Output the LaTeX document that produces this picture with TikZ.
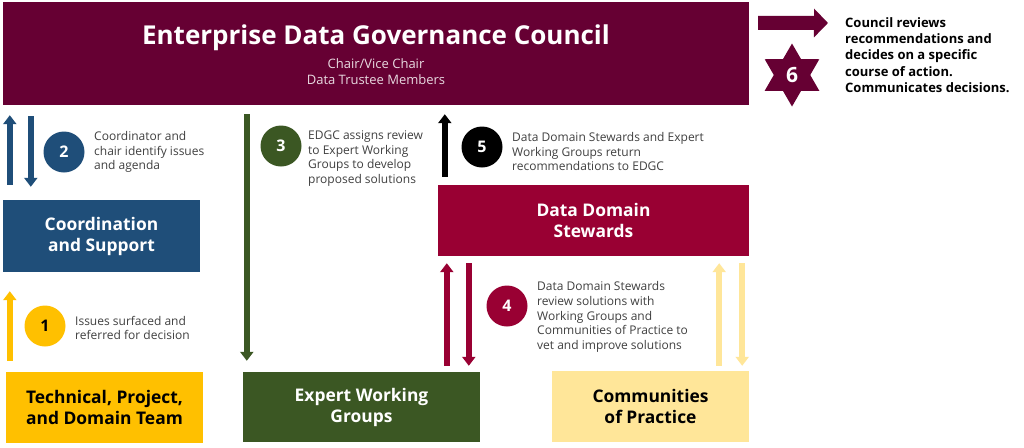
\documentclass[tikz,border=0pt]{standalone}
\usepackage{fontspec}
\setmainfont{Open Sans}
\usetikzlibrary{arrows.meta,shapes.geometric}
\definecolor{councilred}{RGB}{102,0,51}
\definecolor{coordblue}{RGB}{31,78,121}
\definecolor{teamyellow}{RGB}{255,192,0}
\definecolor{expertgreen}{RGB}{59,87,35}
\definecolor{stewardred}{RGB}{153,0,51}
\definecolor{practiceyellow}{RGB}{255,230,153}
\definecolor{notegray}{RGB}{64,64,64}
\tikzset{
  box/.style={inner sep=0, align=center, font=\bfseries\fontsize{17.4}{21}\selectfont},
  badge/.style={circle, minimum size=41pt, inner sep=0, text=white, font=\bfseries\fontsize{16}{18}\selectfont},
  note/.style={anchor=west, inner sep=0, align=left, text=notegray, font=\fontsize{12}{14.6}\selectfont},
  flow/.style={line width=6pt, -{Triangle[width=13pt,length=9pt]}},
}
\begin{document}
\begin{tikzpicture}[x=1pt, y=-1pt]
\useasboundingbox (0,0) rectangle (1024,447);
\fill[white] (0,0) rectangle (1024,447);
% boxes
\node[box, fill=councilred, minimum width=746pt, minimum height=103pt] (council) at (376, 53.5) {};
\node[inner sep=0, text=white, font=\bfseries\fontsize{26}{30}\selectfont] (title) at (376, 38) {Enterprise Data Governance Council};
\node[inner sep=0, align=center, text=white!85!councilred, font=\fontsize{13}{16}\selectfont] (members) at (376, 72) {Chair/Vice Chair\\Data Trustee Members};
\node[box, fill=coordblue, text=white, minimum width=197pt, minimum height=72pt] (coord) at (101.5, 236) {Coordination\\and Support};
\node[box, fill=teamyellow, text=black, minimum width=197pt, minimum height=71pt] (team) at (104.5, 407.5) {Technical, Project,\\and Domain Team};
\node[box, fill=expertgreen, text=white, minimum width=237pt, minimum height=70pt] (expert) at (361.5, 407) {Expert Working\\Groups};
\node[box, fill=stewardred, text=white, minimum width=311pt, minimum height=71pt] (steward) at (593.5, 220.5) {Data Domain\\Stewards};
\node[box, fill=practiceyellow, text=black, minimum width=197pt, minimum height=71pt] (practice) at (650.5, 406.5) {Communities\\of Practice};
% step badges
\node[badge, fill=teamyellow, text=black] (one) at (45, 326) {1};
\node[badge, fill=coordblue] (two) at (64, 152) {2};
\node[badge, fill=expertgreen] (three) at (281, 146) {3};
\node[badge, fill=stewardred] (four) at (507, 306) {4};
\node[badge, fill=black] (five) at (482, 147) {5};
\node[star, star points=6, star point ratio=1.73, minimum size=63pt, inner sep=0, fill=councilred, text=white, font=\bfseries\fontsize{21}{24}\selectfont] (six) at (792, 75) {6};
% notes
\node[note] (onetext) at (75, 328) {Issues surfaced and\\referred for decision};
\node[note] (twotext) at (94, 152) {Coordinator and\\chair identify issues\\and agenda};
\node[note] (threetext) at (308, 158.5) {EDGC assigns review\\to Expert Working\\Groups to develop\\proposed solutions};
\node[note] (fourtext) at (537, 317) {Data Domain Stewards\\review solutions with\\Working Groups and\\Communities of Practice to\\vet and improve solutions};
\node[note] (fivetext) at (512, 151.5) {Data Domain Stewards and Expert\\Working Groups return\\recommendations to EDGC};
\node[note, text=black, font=\bfseries\fontsize{13}{16.2}\selectfont] (sixtext) at (845, 55) {Council reviews\\recommendations and\\decides on a specific\\course of action.\\Communicates decisions.};
\coordinate (decide) at (828, 23);
% flows
\draw[flow, teamyellow] ([xshift=4pt, yshift=11pt]team.north west) -- ([xshift=7pt, yshift=-19pt]coord.south west);
\draw[flow, coordblue] ([xshift=7pt, yshift=15pt]coord.north west) -- ([xshift=7pt, yshift=-10pt]council.south west);
\draw[flow, coordblue] ([xshift=28pt, yshift=-11pt]council.south west) -- ([xshift=28pt, yshift=13pt]coord.north west);
\draw[flow, expertgreen] ([xshift=244pt, yshift=-9pt]council.south west) -- ([xshift=4pt, yshift=11pt]expert.north west);
\draw[flow, black] ([xshift=7pt, yshift=8pt]steward.north west) -- ([xshift=442pt, yshift=-9pt]council.south west);
\draw[flow, stewardred] ([xshift=204pt, yshift=6pt]expert.north west) -- ([xshift=9pt, yshift=-7pt]steward.south west);
\draw[flow, stewardred] ([xshift=31pt, yshift=-7pt]steward.south west) -- ([xshift=226pt, yshift=6pt]expert.north west);
\draw[flow, practiceyellow] ([xshift=-30pt, yshift=5pt]practice.north east) -- ([xshift=-30pt, yshift=-7pt]steward.south east);
\draw[flow, practiceyellow] ([xshift=-7pt, yshift=-7pt]steward.south east) -- ([xshift=-7pt, yshift=5pt]practice.north east);
\draw[councilred, line width=14pt, -{Triangle[width=28pt, length=14pt]}] ([xshift=9pt, yshift=-21pt]council.north east) -- (decide);
\end{tikzpicture}
\end{document}
